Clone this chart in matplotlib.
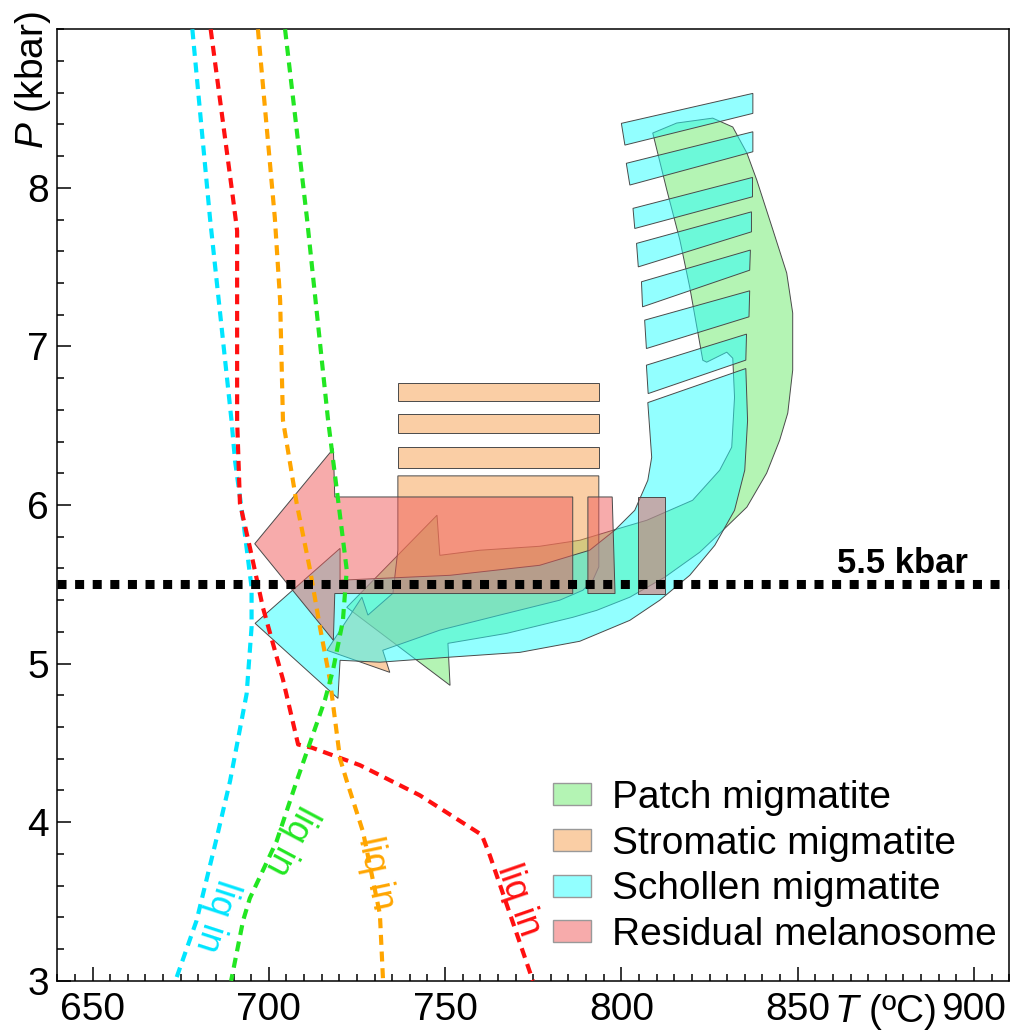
import matplotlib
matplotlib.use("Agg")
import matplotlib.pyplot as plt
import matplotlib.transforms as mtransforms
from matplotlib.patches import Polygon, Patch
from matplotlib.ticker import MultipleLocator

plt.rcParams['font.family'] = ['Liberation Sans', 'DejaVu Sans']
plt.rcParams['mathtext.fontset'] = 'custom'
plt.rcParams['mathtext.rm'] = 'Liberation Sans'
plt.rcParams['mathtext.it'] = 'Liberation Sans:italic'

# liquidus ("liq in") curves, T in ºC, P in kbar
cyan_liq_T = [678.3, 683.3, 689.4, 690.4, 692.7, 695.1, 695.1, 693.7, 689.0, 685.2, 679.5, 673.5]
cyan_liq_P = [9.0, 7.81, 6.535, 6.28, 5.905, 5.48, 5.23, 4.81, 4.26, 3.90, 3.38, 3.0]
red_liq_T = [683.5, 689.8, 691.0, 691.0, 691.8, 694.6, 698.3, 704.0, 708.3, 712.2, 725.8, 742.8, 760.4, 762.7, 774.9]
red_liq_P = [9.0, 7.94, 7.73, 6.535, 6.01, 5.735, 5.355, 4.90, 4.49, 4.47, 4.36, 4.17, 3.92, 3.79, 3.0]
orange_liq_T = [696.9, 701.7, 703.2, 704.0, 707.9, 711.7, 714.5, 717.3, 720.2, 722.1, 726.7, 731.5, 732.4]
orange_liq_P = [9.0, 7.81, 7.29, 6.535, 6.01, 5.59, 5.23, 4.90, 4.40, 4.26, 3.94, 3.42, 3.0]
green_liq_T = [704.6, 710.8, 716.8, 719.2, 722.1, 721.0, 718.2, 715.9, 707.9, 702.2, 694.6, 692.7, 689.3]
green_liq_P = [9.0, 7.81, 6.535, 6.11, 5.59, 5.27, 4.96, 4.77, 4.26, 3.88, 3.52, 3.38, 3.0]

# "liq in" label anchors (T, P, rotation)
liq_labels = [
    (685.0, 3.41, 252, '#00e5ff'),
    (706.3, 3.89, 242, '#22e622'),
    (730.4, 3.68, -78, '#ffa500'),
    (770.9, 3.51, -71, '#ff1010'),
]

# Patch migmatite P-T path
patch_T = [808.9, 815.7, 825.9, 831.6, 835.6, 838.4, 843.0, 846.9, 848.6, 848.6, 847.2, 844.9,
           841.2, 835.6, 828.8, 822.2, 812.3, 802.4, 793.0, 786.2, 767.5, 750.8, 751.4, 722.1,
           747.7, 748.5, 759.8, 776.8, 788.2, 797.6, 807.2, 820.2, 827.9, 831.3, 832.1, 831.6,
           829.9, 824.2, 823.1, 819.4, 816.6, 812.9]
patch_P = [8.346, 8.409, 8.440, 8.384, 8.220, 8.050, 7.734, 7.463, 7.211, 6.851, 6.580, 6.409,
           6.201, 5.987, 5.841, 5.702, 5.545, 5.419, 5.336, 5.292, 5.191, 5.128, 4.863, 5.355,
           5.936, 5.683, 5.715, 5.740, 5.778, 5.841, 5.904, 6.030, 6.220, 6.365, 6.680, 6.926,
           6.964, 6.901, 6.913, 7.373, 7.671, 7.986]

# Stromatic migmatite P-T path
strom_T = [736.6, 793.6, 793.6, 791.9, 789.1, 782.5, 765.5, 748.5, 732.3, 734.3, 716.5, 726.4,
           728.1, 735.2, 736.6]
strom_P = [6.184, 6.184, 5.610, 5.526, 5.463, 5.400, 5.306, 5.211, 5.084, 4.945, 5.084, 5.419,
           5.306, 5.444, 5.715]
strom_bar_T = [736.6, 793.6]
strom_bar_P = [(6.768, 6.655), (6.573, 6.457), (6.363, 6.234)]

# Schollen migmatite P-T path
schol_T = [807.5, 835.3, 835.8, 835.0, 832.1, 826.5, 819.4, 810.9, 802.4, 788.2, 771.2, 750.8,
           731.5, 720.2, 719.6, 696.1, 720.2, 720.2, 751.4, 776.8, 791.0, 798.1, 803.8, 807.5, 808.6]
schol_P = [6.646, 6.861, 6.533, 6.220, 5.967, 5.746, 5.557, 5.400, 5.273, 5.141, 5.071, 5.040,
           5.009, 5.021, 4.781, 5.254, 5.727, 5.526, 5.557, 5.620, 5.715, 5.841, 5.967, 6.156, 6.301]
schol_bars_T = [
    [800.0, 837.3, 837.3, 801.0],
    [801.4, 837.3, 837.3, 802.4],
    [803.3, 837.2, 837.2, 803.8],
    [804.3, 836.9, 836.9, 804.8],
    [805.7, 836.6, 836.4, 806.0],
    [806.6, 836.4, 836.2, 807.1],
    [807.1, 835.5, 835.3, 807.6],
]
schol_bars_P = [
    [8.407, 8.596, 8.470, 8.270],
    [8.155, 8.354, 8.228, 8.018],
    [7.871, 8.066, 7.944, 7.744],
    [7.650, 7.849, 7.723, 7.502],
    [7.408, 7.608, 7.481, 7.250],
    [7.166, 7.351, 7.187, 6.987],
    [6.882, 7.078, 6.914, 6.703],
]

# Residual melanosome P-T path
melano_T = [696.0, 718.3, 718.7, 786.2, 786.2, 718.7, 718.3]
melano_P = [5.756, 6.356, 6.051, 6.051, 5.442, 5.442, 5.147]
melano_rects_T = [[790.5, 797.4, 798.2, 790.5], [804.7, 812.3, 812.3, 804.7]]
melano_rects_P = [[6.051, 6.051, 5.442, 5.442], [6.051, 6.051, 5.442, 5.442]]

labels = ['Patch migmatite', 'Stromatic migmatite', 'Schollen migmatite', 'Residual melanosome']
fills = [(0.42, 0.92, 0.42, 0.5), (0.97, 0.62, 0.30, 0.5),
         (0.15, 1.0, 1.0, 0.5), (0.94, 0.35, 0.35, 0.5)]
EDGE = '#4a4a4a'


def add_poly(ax, T, P, fc, z):
    ax.add_patch(Polygon(list(zip(T, P)), closed=True, facecolor=fc,
                         edgecolor=EDGE, linewidth=0.7, zorder=z))


fig = plt.figure(figsize=(10.13, 10.36), dpi=100)
ax = fig.add_axes([0.0566, 0.0533, 0.9396, 0.9184])

# fields
add_poly(ax, patch_T, patch_P, fills[0], 1)
add_poly(ax, strom_T, strom_P, fills[1], 2)
for p0, p1 in strom_bar_P:
    add_poly(ax, [strom_bar_T[0], strom_bar_T[1], strom_bar_T[1], strom_bar_T[0]],
             [p0, p0, p1, p1], fills[1], 2)
add_poly(ax, schol_T, schol_P, fills[2], 3)
for T, P in zip(schol_bars_T, schol_bars_P):
    add_poly(ax, T, P, fills[2], 3)
add_poly(ax, melano_T, melano_P, fills[3], 4)
for T, P in zip(melano_rects_T, melano_rects_P):
    add_poly(ax, T, P, fills[3], 4)

# liquidus curves
dash = (2.4, 1.6)
ax.plot(cyan_liq_T, cyan_liq_P, color='#00e5ff', lw=3, dashes=dash, zorder=6)
ax.plot(red_liq_T, red_liq_P, color='#ff1010', lw=3, dashes=dash, zorder=6)
ax.plot(orange_liq_T, orange_liq_P, color='#ffa500', lw=3, dashes=dash, zorder=6)
ax.plot(green_liq_T, green_liq_P, color='#22e622', lw=3, dashes=dash, zorder=6)
for t, p, rot, c in liq_labels:
    ax.text(t, p, 'liq in', color=c, fontsize=26, rotation=rot, rotation_mode='anchor',
            ha='center', va='center', zorder=7)

# 5.5 kbar reference
ax.plot([640, 910], [5.5, 5.5], color='black', lw=6.5, linestyle=(0, (1, 0.95)), zorder=8)
ax.text(898.2, 5.57, '5.5 kbar', fontsize=25, fontweight='bold', ha='right', va='baseline', zorder=8)

ax.set_xlim(640, 910)
ax.set_ylim(3, 9)
ax.set_xticks([650, 700, 750, 800, 850, 900])
ax.set_yticks([3, 4, 5, 6, 7, 8])
ax.xaxis.set_minor_locator(MultipleLocator(5))
ax.yaxis.set_minor_locator(MultipleLocator(0.2))
ax.tick_params(which='both', direction='in', top=False, right=False, labelsize=28, width=1.1)
ax.tick_params(which='major', length=10)
ax.tick_params(which='minor', length=5)
ax.tick_params(axis='x', pad=8)
ax.tick_params(axis='y', pad=6)
for s in ax.spines.values():
    s.set_linewidth(1.1)

tr_y = mtransforms.blended_transform_factory(ax.transAxes, ax.transData)
ax.text(-0.026, 8.68, '$P$ (kbar)', transform=tr_y, rotation=90, fontsize=28,
        ha='center', va='center')
ax.annotate('$T$ (ºC)', xy=(874.7, 0), xycoords=('data', 'axes fraction'),
            xytext=(0, -8), textcoords='offset points', ha='center', va='top', fontsize=28)

handles = [Patch(facecolor=f, edgecolor='#999999', linewidth=1) for f in fills]
ax.legend(handles, labels, loc='upper left', bbox_to_anchor=(0.5203, 0.211), frameon=False,
          fontsize=28, handlelength=0.98, handleheight=0.49, handletextpad=0.54,
          labelspacing=0.25, borderpad=0, borderaxespad=0)

fig.savefig('out.png', dpi=100)
